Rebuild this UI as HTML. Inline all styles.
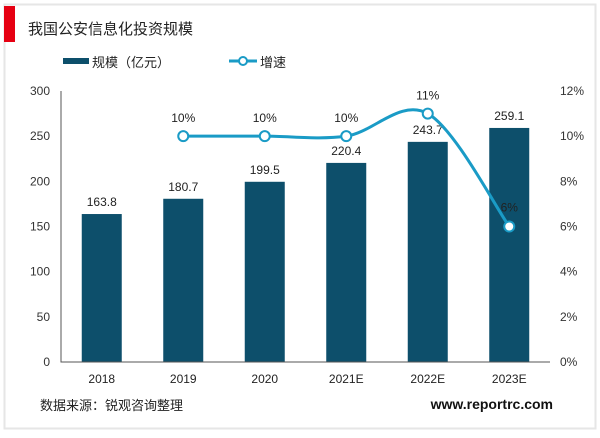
<!DOCTYPE html>
<html><head><meta charset="utf-8"><style>
body{margin:0;width:600px;height:433px;background:#fff;font-family:"Liberation Sans","Noto Sans CJK SC",sans-serif;}
</style></head><body>
<svg width="600" height="433" xmlns="http://www.w3.org/2000/svg" font-family="Liberation Sans, Noto Sans CJK SC, sans-serif">
<rect x="4.5" y="4.5" width="591" height="424" fill="#fff" stroke="#e6e6e6" stroke-width="2"/>
<rect x="4" y="6" width="11" height="36" fill="#e60012"/>
<text x="28" y="34" font-size="15" fill="#222">我国公安信息化投资规模</text>
<g>
<rect x="63" y="58" width="26" height="6" fill="#0d4f6b"/>
<text x="92" y="67" font-size="13" fill="#222">规模（亿元）</text>
<line x1="229" y1="61" x2="257" y2="61" stroke="#1a9bc6" stroke-width="3"/>
<circle cx="243" cy="61" r="4" fill="#fff" stroke="#1a9bc6" stroke-width="2"/>
<text x="260" y="67" font-size="13" fill="#222">增速</text>
</g>
<g id="chart"></g>
<text x="40" y="410" font-size="13" fill="#222">数据来源：锐观咨询整理</text>
<text x="553" y="409" font-size="14" font-weight="bold" text-anchor="end" fill="#111">www.reportrc.com</text>
</svg>
<script>
const categories=["2018","2019","2020","2021E","2022E","2023E"];
const sizeValues=[163.8,180.7,199.5,220.4,243.7,259.1];
const growthValues=[null,10,10,10,11,6];
const leftTicks=[0,50,100,150,200,250,300];
const rightTicks=[0,2,4,6,8,10,12];
const X0=61,X1=550,Y0=362,Y1=91;
const ns="http://www.w3.org/2000/svg";
const g=document.getElementById("chart");
const bw=(X1-X0)/categories.length;
const xc=i=>X0+bw*(i+0.5);
const yL=v=>Y0-(v/300)*(Y0-Y1);
const yR=v=>Y0-(v/12)*(Y0-Y1);
function mk(t,a,txt){const e=document.createElementNS(ns,t);for(const k in a)e.setAttribute(k,a[k]);if(txt!==undefined)e.textContent=txt;g.appendChild(e);return e;}
leftTicks.forEach(v=>{const t=mk("text",{x:50,y:yL(v)+4,"font-size":12,"text-anchor":"end",fill:"#333"},v);

});
rightTicks.forEach(v=>{const t=mk("text",{x:560,y:yR(v)+4,"font-size":12,fill:"#333"},v+"%");

});
sizeValues.forEach((v,i)=>{const r=mk("rect",{x:xc(i)-20,y:yL(v),width:40,height:Y0-yL(v),fill:"#0d4f6b"});


const t=mk("text",{x:xc(i),y:yL(v)-8,"font-size":12,"text-anchor":"middle",fill:"#222"},v.toFixed(1));


const c=mk("text",{x:xc(i),y:383,"font-size":12,"text-anchor":"middle",fill:"#222"},categories[i]);

});
const ax=mk("path",{d:`M${X0} ${Y1}V${Y0}H${X1}`,fill:"none",stroke:"#555","stroke-width":1});


const pts=[];growthValues.forEach((v,i)=>{if(v!==null)pts.push([xc(i),yR(v),v]);});
let d=`M${pts[0][0]} ${pts[0][1]}`;
for(let i=0;i<pts.length-1;i++){const p0=pts[Math.max(i-1,0)],p1=pts[i],p2=pts[i+1],p3=pts[Math.min(i+2,pts.length-1)];
const c1x=p1[0]+(p2[0]-p0[0])/6,c1y=p1[1]+(p2[1]-p0[1])/6,c2x=p2[0]-(p3[0]-p1[0])/6,c2y=p2[1]-(p3[1]-p1[1])/6;
d+=` C${c1x} ${c1y} ${c2x} ${c2y} ${p2[0]} ${p2[1]}`;}
const ln=mk("path",{d,fill:"none",stroke:"#1a9bc6","stroke-width":3});


pts.forEach(p=>{const c=mk("circle",{cx:p[0],cy:p[1],r:5,fill:"#fff",stroke:"#1a9bc6","stroke-width":2});


const t=mk("text",{x:p[0],y:p[1]-14,"font-size":12,"text-anchor":"middle",fill:"#222"},p[2]+"%");
if(p[2]<8)t.setAttribute("y",p[1]-15);

});
</script>
</body></html>
